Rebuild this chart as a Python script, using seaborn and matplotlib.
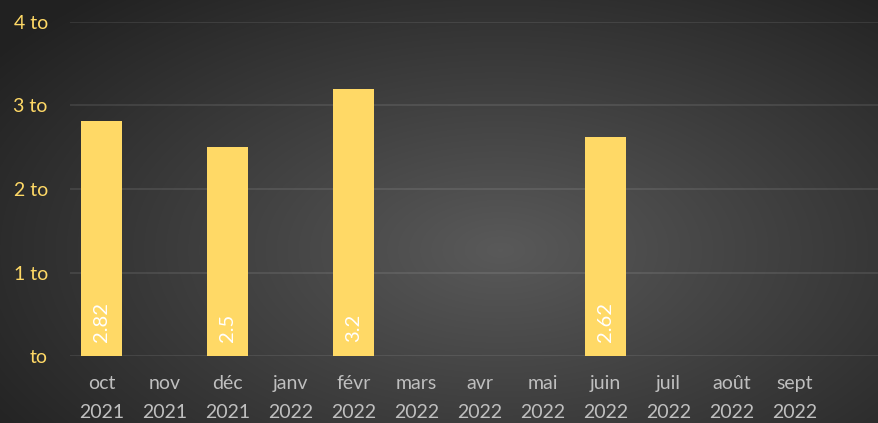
import numpy as np
import pandas as pd
import seaborn as sns
import matplotlib.pyplot as plt
from matplotlib.ticker import FuncFormatter

months = ["oct\n2021", "nov\n2021", "déc\n2021", "janv\n2022", "févr\n2022", "mars\n2022",
          "avr\n2022", "mai\n2022", "juin\n2022", "juil\n2022", "août\n2022", "sept\n2022"]
tonnes = [2.82, np.nan, 2.5, np.nan, 3.2, np.nan, np.nan, np.nan, 2.62, np.nan, np.nan, np.nan]

df = pd.DataFrame({"mois": months, "tonnes": tonnes})

sns.set_style("dark")
plt.rcParams['font.family'] = ['Lato', 'DejaVu Sans']

fig = plt.figure(figsize=(8.79, 4.23), dpi=100)

# fond en dégradé radial
bg = fig.add_axes([0, 0, 1, 1])
yy, xx = np.mgrid[0:423, 0:879]
d = np.sqrt(((xx - 500) / 620.0) ** 2 + ((yy - 250) / 340.0) ** 2)
d = np.clip(d, 0, 1)
g = 0.35 - 0.22 * d
bg.imshow(np.dstack([g, g, g]), aspect="auto", extent=[0, 1, 0, 1])
bg.axis("off")

ax = fig.add_axes([70 / 879, 1 - 356 / 423, 1 - 70 / 879, (356 - 22) / 423])
ax.patch.set_alpha(0)
sns.barplot(data=df, x="mois", y="tonnes", color="#FFD966", saturation=1, width=0.65,
            linewidth=0, ax=ax)

ax.set_ylim(0, 4)
ax.set_xlim(-0.5, 12.34)
ax.set_yticks([0, 1, 2, 3, 4])
ax.yaxis.set_major_formatter(FuncFormatter(lambda v, p: "to" if v == 0 else f"{int(v)} to"))
ax.grid(axis="y", color="#ffffff", alpha=0.09, linewidth=1.5)
ax.grid(axis="x", visible=False)
ax.set_axisbelow(True)
for s in ax.spines.values():
    s.set_visible(False)
ax.tick_params(axis="y", colors="#FFD966", labelsize=14, length=0, pad=16)
ax.tick_params(axis="x", colors="#BFBFBF", labelsize=14, length=0, pad=14)
for lbl in ax.get_xticklabels():
    lbl.set_linespacing(1.8)
ax.set_xlabel("")
ax.set_ylabel("")

for i, v in enumerate(tonnes):
    if not np.isnan(v):
        ax.annotate(f"{v:g}", (i, 0), xytext=(0, 10), textcoords="offset points",
                    rotation=90, ha="center", va="bottom", color="white", fontsize=14.5)

fig.savefig("out.png", dpi=100)
